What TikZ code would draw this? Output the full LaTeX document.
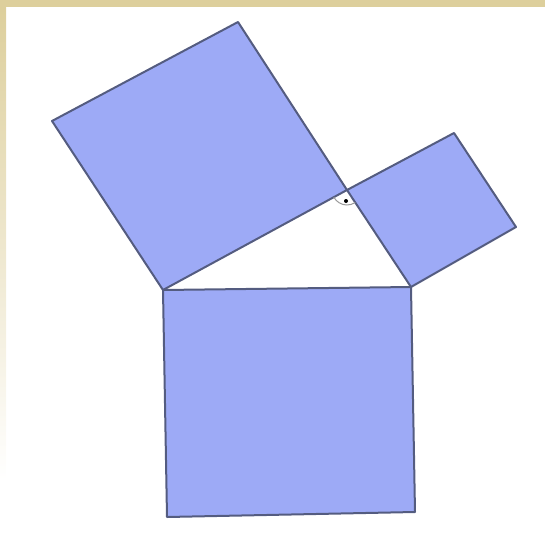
\documentclass[tikz,border=0pt]{standalone}
\usepackage{tikz}
\usetikzlibrary{calc, backgrounds}
\usepackage{xcolor}
\definecolor{frame}{HTML}{DDCF9C}
\definecolor{sqfill}{HTML}{9DAAF6}
\definecolor{sqline}{HTML}{545C80}

\begin{document}
\begin{tikzpicture}[x=1pt, y=-1pt,
  square/.style={fill=sqfill, draw=sqline, line width=2pt, line join=round}]
  \useasboundingbox (0,0) rectangle (545,546);
  % frame: top band and fading left band
  \fill[frame] (0,0) rectangle (545,7);
  \shade[top color=frame, bottom color=white] (0,7) rectangle (6,480);
  % triangle corners
  \coordinate (A) at (163,290);
  \coordinate (B) at (411,287);
  \coordinate (C) at (347,190);
  % squares on the three sides
  \draw[square] (A) -- (C) -- (238,22) -- (52,121) -- cycle;
  \draw[square] (C) -- (B) -- (516,227) -- (454,133) -- cycle;
  \draw[square] (A) -- (B) -- (415,512) -- (167,517) -- cycle;
  % right angle mark
  \draw[black!40, line width=1pt] ($(C)!15pt!(A)$) arc[start angle=151.5, end angle=56.6, radius=15];
  \fill (346,201) circle (2);
\end{tikzpicture}
\end{document}
